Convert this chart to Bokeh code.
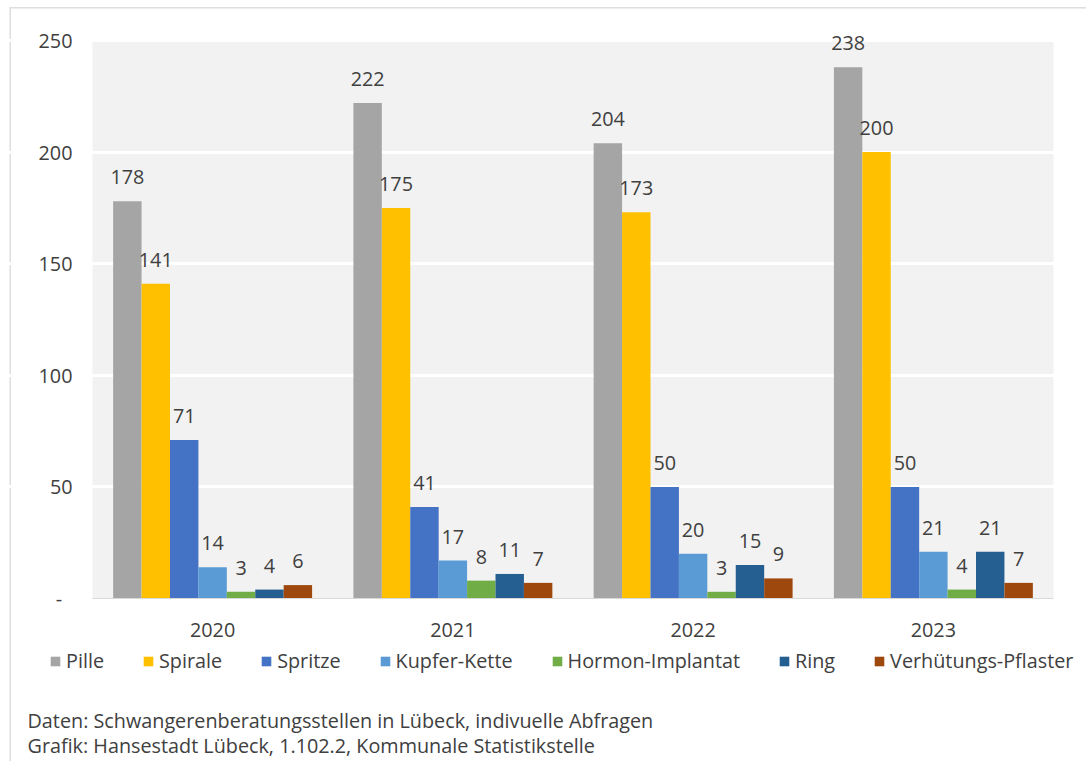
from bokeh.plotting import figure
from bokeh.models import (ColumnDataSource, Range1d, FixedTicker, Grid, BoxAnnotation,
                          Legend, LegendItem, Label, LabelSet)
from bokeh.transform import dodge
from bokeh.core.properties import value
from bokeh.embed import file_html
from bokeh.resources import INLINE

# ---------------- data ----------------
years = ["2020", "2021", "2022", "2023"]
series_names = ["Pille", "Spirale", "Spritze", "Kupfer-Kette",
                "Hormon-Implantat", "Ring", "Verhütungs-Pflaster"]
pille = [178, 222, 204, 238]
spirale = [141, 175, 173, 200]
spritze = [71, 41, 50, 50]
kupfer_kette = [14, 17, 20, 21]
hormon_implantat = [3, 8, 3, 4]
ring = [4, 11, 15, 21]
verhuetungs_pflaster = [6, 7, 9, 7]
series_colors = ["#a5a5a5", "#ffc000", "#4472c4", "#5b9bd5",
                 "#70ad47", "#255e91", "#9e480e"]
y_ticks = [0, 50, 100, 150, 200, 250]
y_tick_labels = ["-\u00a0\u00a0", "50", "100", "150", "200", "250"]
footer_lines = ["Daten: Schwangerenberatungsstellen in Lübeck, indivuelle Abfragen",
                "Grafik: Hansestadt Lübeck, 1.102.2, Kommunale Statistikstelle"]

series_values = [pille, spirale, spritze, kupfer_kette,
                 hormon_implantat, ring, verhuetungs_pflaster]

# ---------------- layout (page pixels) ----------------
FONT = "Open Sans"
FS = "19.8px"
TXT = "#404040"
W, H = 1086, 761
AREA_L, AREA_R, AREA_T, AREA_B = 92, 1053, 40, 598   # plot area box in pixels
Y_MAX = 250
NCAT = len(years)
ppu = (AREA_B - AREA_T) / Y_MAX           # pixels per y unit
ppc = (AREA_R - AREA_L) / NCAT            # pixels per category


def px_x(px):
    return (px - AREA_L) / ppc


def px_y(py):
    return (AREA_B - py) / ppu


data = {"x": [i + 0.5 for i in range(NCAT)]}
for i, vals in enumerate(series_values):
    data[f"s{i}"] = vals
    data[f"l{i}"] = [str(v) for v in vals]
source = ColumnDataSource(data)

p = figure(x_range=Range1d(px_x(0), px_x(W)), y_range=Range1d(px_y(H), px_y(0)),
           width=W, height=H, output_backend="svg", toolbar_location=None,
           min_border=0)
p.background_fill_color = "white"
p.border_fill_color = "white"
p.outline_line_color = None
p.grid.visible = False

# plot-area background and page decoration
p.add_layout(BoxAnnotation(left=0, right=NCAT, bottom=0, top=Y_MAX,
                           fill_color="#f2f2f2", fill_alpha=1, line_color=None,
                           level="underlay"))
p.add_layout(BoxAnnotation(left=px_x(9), right=px_x(10.5), top=px_y(7),
                           fill_color="#dedede", fill_alpha=1, line_color=None,
                           level="underlay"))
p.add_layout(BoxAnnotation(left=px_x(9), top=px_y(6.5), bottom=px_y(8),
                           fill_color="#dedede", fill_alpha=1, line_color=None,
                           level="underlay"))
grid = Grid(dimension=1, ticker=FixedTicker(ticks=y_ticks[1:]),
            grid_line_color="white", grid_line_width=3, bounds=(0, NCAT))
p.add_layout(grid)

# y axis
yax = p.yaxis[0]
yax.fixed_location = 0
yax.bounds = (0, Y_MAX)
yax.ticker = FixedTicker(ticks=y_ticks)
yax.major_label_overrides = {t: l for t, l in zip(y_ticks, y_tick_labels)}
yax.axis_line_color = None
yax.major_tick_line_color = None
yax.minor_tick_line_color = None
yax.major_tick_out = 0
yax.major_tick_in = 0
yax.major_label_standoff = 20
yax.major_label_text_font = FONT
yax.major_label_text_font_size = FS
yax.major_label_text_color = TXT

# x axis
xax = p.xaxis[0]
xax.fixed_location = 0
xax.bounds = (0, NCAT)
xax.ticker = FixedTicker(ticks=data["x"])
xax.major_label_overrides = {x: y for x, y in zip(data["x"], years)}
xax.axis_line_color = "#d9d9d9"
xax.axis_line_width = 1
xax.major_tick_line_color = None
xax.minor_tick_line_color = None
xax.major_tick_out = 0
xax.major_tick_in = 0
xax.major_label_standoff = 24
xax.major_label_text_font = FONT
xax.major_label_text_font_size = FS
xax.major_label_text_color = TXT

bw = 0.1183
n = len(series_names)
items = []
for i, (name, col) in enumerate(zip(series_names, series_colors)):
    off = (i - (n - 1) / 2) * bw
    r = p.vbar(x=dodge("x", off), top=f"s{i}", width=bw,
               source=source, fill_color=col, line_color=None)
    items.append(LegendItem(label=name, renderers=[r]))
    ls = LabelSet(x=dodge("x", off), y=f"s{i}", text=f"l{i}",
                  source=source, y_offset=17, text_align="center",
                  text_baseline="alphabetic", text_font=value(FONT),
                  text_font_size=value(FS), text_color=TXT)
    p.add_layout(ls)

legend = Legend(items=items, location=(49, H - 654 - 20), orientation="horizontal",
                label_text_font=FONT, label_text_font_size=FS,
                label_text_color=TXT, glyph_width=12, glyph_height=12,
                label_standoff=5, spacing=38, padding=0, margin=0,
                label_height=20, border_line_color=None,
                background_fill_alpha=0)
p.add_layout(legend, "center")

# footer text
for line, base_px in zip(footer_lines, [720, 745]):
    p.add_layout(Label(x=px_x(27), y=px_y(base_px), text=line,
                       text_font=FONT, text_font_size=FS, text_color=TXT,
                       text_baseline="alphabetic", text_align="left"))

open("out.html", "w").write(file_html(p, INLINE))
